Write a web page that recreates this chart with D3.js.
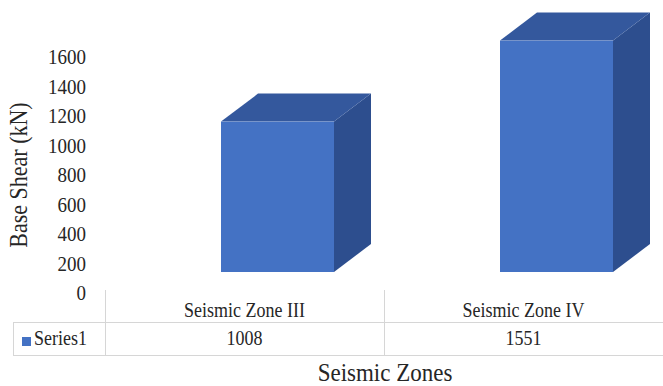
<!DOCTYPE html>
<html>
<head>
<meta charset="utf-8">
<script src="https://cdn.jsdelivr.net/npm/d3@7"></script>
<style>
  html, body { margin: 0; padding: 0; background: #fff; }
  svg { display: block; }
  svg text { font-family: 'Liberation Serif', 'DejaVu Serif', serif; fill: #262626; }
</style>
</head>
<body>
<svg id="chart" width="663" height="386"></svg>
<script>
// Data
const categories = ["Seismic Zone III", "Seismic Zone IV"];
const seriesName = "Series1";
const values = [1008, 1551];
const yTicks = [0, 200, 400, 600, 800, 1000, 1200, 1400, 1600];

const W = 663, H = 386;
const FONT = "'Liberation Serif', 'DejaVu Serif', serif";
const STRETCH = 1.12; // slightly tall lettering
const svg = d3.select("#chart");

// Places a text at (px, py) with the vertical stretch applied
function place(sel, px, py) {
  return sel.attr("transform", (d, i) => {
    const X = typeof px === "function" ? px(d, i) : px;
    const Y = typeof py === "function" ? py(d, i) : py;
    return `translate(${X},${Y}) scale(1,${STRETCH})`;
  });
}

// Category columns of the data table double as the x band scale
const x = d3.scaleBand().domain(categories).range([105, 663]);

// Bar heights on the front plane of the 3D box
const y = d3.scaleLinear().domain([0, 1600]).range([272, 33.3]);
// Value axis labels sit on the projected front edge, slightly lower
const yAxisScale = d3.scaleLinear().domain([0, 1600]).range([293, 57]);

const barOffset = 116, barWidth = 113;
const depthX = 37, depthY = -28;

const colors = { front: "#4472c4", top: "#34589d", side: "#2d4e8e" };

// 3D columns
const bars = svg.append("g").attr("class", "bars");
categories.forEach((c, i) => {
  const x0 = x(c) + barOffset;
  const x1 = x0 + barWidth;
  const yt = y(values[i]);
  const yb = y(0);
  const g = bars.append("g");
  // side face
  g.append("path")
    .attr("d", d3.line()([[x1, yt], [x1 + depthX, yt + depthY], [x1 + depthX, yb + depthY], [x1, yb]]) + "Z")
    .attr("fill", colors.side);
  // top face
  g.append("path")
    .attr("d", d3.line()([[x0, yt], [x0 + depthX, yt + depthY], [x1 + depthX, yt + depthY], [x1, yt]]) + "Z")
    .attr("fill", colors.top);
  // front face
  g.append("rect")
    .attr("x", x0).attr("y", yt)
    .attr("width", barWidth).attr("height", yb - yt)
    .attr("fill", colors.front);
});

// Value axis labels
const yAxis = d3.axisLeft(yAxisScale).tickValues(yTicks).tickSize(0).tickPadding(0).tickFormat(d3.format("d"));
const ya = svg.append("g").attr("transform", "translate(86,0)").call(yAxis)
  .attr("font-family", FONT).attr("font-size", 19);
ya.select(".domain").remove();
ya.selectAll("text").attr("fill", "#262626").attr("transform", `scale(1,${STRETCH})`);

// Y axis title
svg.append("text")
  .attr("transform", `translate(27,175) rotate(-90) scale(1,${STRETCH})`)
  .attr("text-anchor", "middle")
  .attr("font-family", FONT)
  .attr("font-size", 22)
  .text("Base Shear (kN)");

// Data table grid
const grid = svg.append("g").attr("stroke", "#d6d6d6").attr("stroke-width", 1);
const rowTop = 322.5, rowBottom = 355.5, headTop = 290;
grid.append("line").attr("x1", 13).attr("x2", W).attr("y1", rowTop).attr("y2", rowTop);
grid.append("line").attr("x1", 13).attr("x2", W).attr("y1", rowBottom).attr("y2", rowBottom);
grid.append("line").attr("x1", 13.5).attr("x2", 13.5).attr("y1", rowTop).attr("y2", rowBottom);
categories.forEach(c => {
  const xl = Math.round(x(c)) + 0.5;
  grid.append("line").attr("x1", xl).attr("x2", xl).attr("y1", headTop).attr("y2", rowBottom);
});

// Category labels (table header)
place(svg.append("g").selectAll("text").data(categories).join("text"),
      d => x(d) + x.bandwidth() / 2, 317)
  .attr("text-anchor", "middle")
  .attr("font-family", FONT)
  .attr("font-size", 18)
  .text(d => d);

// Values row
place(svg.append("g").selectAll("text").data(values).join("text"),
      (d, i) => x(categories[i]) + x.bandwidth() / 2, 345)
  .attr("text-anchor", "middle")
  .attr("font-family", FONT)
  .attr("font-size", 18)
  .text(d => d);

// Legend key and series name
svg.append("rect").attr("x", 22).attr("y", 337).attr("width", 9).attr("height", 9).attr("fill", colors.front);
place(svg.append("text"), 34, 345).attr("font-family", FONT).attr("font-size", 18).text(seriesName);

// X axis title
place(svg.append("text"), 385, 381)
  .attr("text-anchor", "middle")
  .attr("font-family", FONT)
  .attr("font-size", 23)
  .text("Seismic Zones");
</script>
</body>
</html>
